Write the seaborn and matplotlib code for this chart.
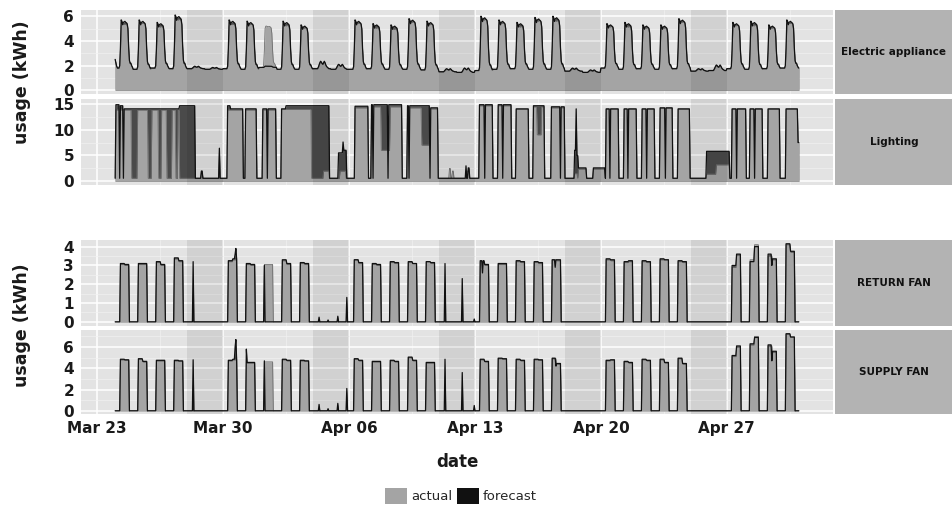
import pandas as pd
import seaborn as sns
import matplotlib.pyplot as plt
import matplotlib.dates as mdates
from matplotlib.patches import Patch

# ---- data ----
hours = pd.date_range('2015-03-24 00:00', '2015-05-01 00:00', freq='h')
days = pd.date_range('2015-03-24', '2015-04-30', freq='D')
weekends = ['2015-03-28', '2015-04-04', '2015-04-11', '2015-04-18', '2015-04-25']
x_ticks = ['2015-03-23', '2015-03-30', '2015-04-06', '2015-04-13', '2015-04-20', '2015-04-27']

# electric appliance: per day night level and day peak (actual / forecast)
E_BASE = [1.8, 1.7, 1.8, 1.75, 1.75, 1.7, 1.75, 1.7, 1.85, 1.7, 1.7, 1.75, 1.7,
          1.7, 1.75, 1.7, 1.7, 1.65, 1.5, 1.45, 1.6, 1.7, 1.75, 1.7, 1.7, 1.55, 1.45,
          1.8, 1.7, 1.75, 1.7, 1.75, 1.55, 1.6, 1.75, 1.7, 1.75, 1.8]
E_PEAK_ACT = [5.5, 5.6, 5.3, 5.9, 1.9, 1.8, 5.5, 5.5, 5.3, 5.4, 5.2, 2.3, 2.1,
              5.6, 5.2, 5.1, 5.7, 5.5, 1.7, 1.8, 5.9, 5.6, 5.3, 5.8, 5.8, 1.75, 1.6,
              5.3, 5.3, 5.2, 5.2, 5.7, 1.7, 2.0, 5.4, 5.4, 5.2, 5.6]
E_PEAK_FC = [5.7, 5.7, 5.5, 6.1, 1.95, 1.85, 5.7, 5.6, 1.95, 5.6, 5.3, 2.35, 2.1,
             5.7, 5.4, 5.3, 5.8, 5.6, 1.75, 1.8, 6.0, 5.7, 5.5, 5.9, 6.0, 1.8, 1.65,
             5.4, 5.5, 5.3, 5.3, 5.8, 1.75, 2.05, 5.5, 5.6, 5.3, 5.7]
E_FIRST_HOURS = [2.5, 2.2, 1.95]
E_WD_ACT_SHAPE = [0, 0, 0, 0, 0, 0, 0.05, 0.4, 0.92, 0.97, 0.97, 0.96, 0.95, 0.96,
                  0.96, 0.95, 0.93, 0.8, 0.4, 0.14, 0.1, 0.08, 0.04, 0]
E_WD_FC_SHAPE = [0, 0, 0, 0, 0, 0, 0.05, 0.42, 1.0, 0.97, 0.9, 0.95, 0.96, 0.97,
                 0.95, 0.94, 0.92, 0.82, 0.42, 0.16, 0.1, 0.1, 0.05, 0.02]
E_WE_SHAPE = [0, 0, 0, 0, 0, 0, 0, 0.2, 0.5, 0.8, 1, 0.9, 0.7, 0.6, 0.8, 1, 0.8,
              0.5, 0.3, 0.2, 0.1, 0, 0, 0]

# lighting: (start, end, level) steps over a night level
L_BASE = 0.6
LIGHT_ACT = [
    ('03-24 01:00', '03-24 22:00', 13.8), ('03-25 06:00', '03-25 20:00', 13.8),
    ('03-26 01:00', '03-26 10:00', 13.8), ('03-26 14:00', '03-26 21:00', 13.8),
    ('03-27 04:00', '03-27 09:00', 13.8), ('03-27 12:00', '03-27 14:00', 13.8),
    ('03-28 19:00', '03-28 21:00', 1.8), ('03-29 19:00', '03-29 20:00', 5.5),
    ('03-30 06:00', '03-31 03:00', 13.8), ('03-31 06:00', '03-31 21:00', 13.8),
    ('04-01 05:00', '04-01 23:00', 13.8), ('04-02 06:00', '04-03 22:00', 13.9),
    ('04-04 14:00', '04-04 22:00', 2.0), ('04-05 12:00', '04-05 20:00', 2.0),
    ('04-06 08:00', '04-07 02:00', 14.2), ('04-07 06:00', '04-07 19:00', 14.4),
    ('04-07 19:00', '04-08 07:00', 6.0), ('04-08 07:00', '04-08 23:00', 14.4),
    ('04-09 06:00', '04-10 01:00', 14.2), ('04-10 01:00', '04-10 12:00', 7.0),
    ('04-10 12:00', '04-10 23:00', 14.0), ('04-11 14:00', '04-11 16:00', 2.5),
    ('04-11 18:00', '04-11 20:00', 2.0), ('04-12 14:00', '04-12 17:00', 2.0),
    ('04-13 06:00', '04-14 00:00', 14.6), ('04-14 07:00', '04-15 01:00', 14.6),
    ('04-15 07:00', '04-16 00:00', 13.9), ('04-16 06:00', '04-16 11:00', 14.4),
    ('04-16 11:00', '04-16 17:00', 9.0), ('04-16 17:00', '04-16 21:00', 14.4),
    ('04-17 06:00', '04-18 00:00', 14.2), ('04-18 13:00', '04-18 17:00', 1.5),
    ('04-18 18:00', '04-19 05:00', 2.4), ('04-19 14:00', '04-20 06:00', 2.4),
    ('04-20 07:00', '04-21 00:00', 13.9), ('04-21 07:00', '04-22 00:00', 13.9),
    ('04-22 07:00', '04-23 00:00', 13.9), ('04-23 07:00', '04-24 00:00', 14.1),
    ('04-24 07:00', '04-24 23:00', 13.9), ('04-25 21:00', '04-26 10:00', 1.4),
    ('04-26 10:00', '04-27 04:00', 3.2), ('04-27 07:00', '04-28 02:00', 13.9),
    ('04-28 07:00', '04-29 00:00', 13.9), ('04-29 07:00', '04-29 23:00', 13.9),
    ('04-30 07:00', '04-30 23:00', 13.9), ('04-30 23:00', '05-01 01:00', 7.5),
]
LIGHT_FC = [
    ('03-24 01:00', '03-24 06:00', 14.8), ('03-24 07:00', '03-24 11:00', 14.6),
    ('03-24 12:00', '03-27 14:00', 14.0), ('03-27 14:00', '03-28 11:00', 14.6),
    ('03-28 19:00', '03-28 21:00', 2.0), ('03-29 19:00', '03-29 20:00', 6.4),
    ('03-30 06:00', '03-30 10:00', 14.6), ('03-30 10:00', '03-31 03:00', 14.0),
    ('03-31 06:00', '03-31 21:00', 14.0), ('04-01 05:00', '04-01 11:00', 14.0),
    ('04-01 12:00', '04-01 23:00', 14.0), ('04-02 06:00', '04-02 12:00', 14.0),
    ('04-02 12:00', '04-04 22:00', 14.6), ('04-05 10:00', '04-05 16:00', 5.5),
    ('04-05 16:00', '04-05 17:00', 7.6), ('04-05 17:00', '04-05 21:00', 6.0),
    ('04-06 08:00', '04-07 02:00', 14.5), ('04-07 06:00', '04-07 08:00', 14.8),
    ('04-07 09:00', '04-08 04:00', 14.8), ('04-08 05:00', '04-08 23:00', 14.8),
    ('04-09 06:00', '04-09 08:00', 14.6), ('04-09 09:00', '04-10 12:00', 14.6),
    ('04-10 13:00', '04-10 23:00', 14.2), ('04-12 12:00', '04-12 13:00', 3.0),
    ('04-12 15:00', '04-12 17:00', 2.6), ('04-13 06:00', '04-13 13:00', 14.8),
    ('04-13 14:00', '04-14 00:00', 14.8), ('04-14 07:00', '04-14 13:00', 14.8),
    ('04-14 14:00', '04-15 01:00', 14.8), ('04-15 07:00', '04-16 00:00', 14.0),
    ('04-16 06:00', '04-16 21:00', 14.6), ('04-17 06:00', '04-17 18:00', 14.4),
    ('04-17 19:00', '04-18 00:00', 14.4), ('04-18 13:00', '04-18 15:00', 6.0),
    ('04-18 15:00', '04-18 16:00', 14.0), ('04-18 16:00', '04-18 18:00', 5.0),
    ('04-18 18:00', '04-19 05:00', 2.6), ('04-19 14:00', '04-20 06:00', 2.6),
    ('04-20 07:00', '04-20 12:00', 14.0), ('04-20 13:00', '04-21 00:00', 14.0),
    ('04-21 07:00', '04-21 12:00', 14.0), ('04-21 13:00', '04-22 00:00', 14.0),
    ('04-22 07:00', '04-22 13:00', 14.0), ('04-22 14:00', '04-23 00:00', 14.0),
    ('04-23 07:00', '04-23 14:00', 14.2), ('04-23 15:00', '04-24 00:00', 14.2),
    ('04-24 07:00', '04-24 23:00', 14.0), ('04-25 21:00', '04-27 04:00', 5.8),
    ('04-27 07:00', '04-27 13:00', 14.0), ('04-27 14:00', '04-28 02:00', 14.0),
    ('04-28 07:00', '04-28 13:00', 14.0), ('04-28 14:00', '04-29 00:00', 14.0),
    ('04-29 07:00', '04-29 23:00', 14.0), ('04-30 07:00', '04-30 23:00', 14.0),
    ('04-30 23:00', '05-01 01:00', 7.5),
]

# fans: weekday morning / afternoon levels, weekend spikes in the forecast
WEEKDAYS = ['03-24', '03-25', '03-26', '03-27', '03-30', '03-31', '04-01', '04-02', '04-03',
            '04-06', '04-07', '04-08', '04-09', '04-10', '04-13', '04-14', '04-15', '04-16',
            '04-17', '04-20', '04-21', '04-22', '04-23', '04-24', '04-27', '04-28', '04-29',
            '04-30']
RF_ACT_AM = [3.05, 3.05, 3.15, 3.35, 3.2, 3.05, 3.05, 3.25, 3.1, 3.3, 3.05, 3.15, 3.15, 3.2,
             3.2, 3.05, 3.2, 3.15, 3.3, 3.3, 3.15, 3.2, 3.3, 3.2, 2.9, 3.3, 3.5, 4.1]
RF_ACT_PM = [3.0, 3.05, 3.0, 3.2, 3.3, 3.0, 3.05, 3.05, 3.05, 3.1, 3.0, 3.1, 3.1, 3.1,
             3.0, 3.05, 3.15, 3.1, 3.25, 3.25, 3.2, 3.15, 3.3, 3.15, 3.55, 4.1, 3.3, 3.7]
RF_FC_AM = [3.1, 3.1, 3.2, 3.4, 3.25, 3.1, 0.0, 3.3, 3.15, 3.3, 3.1, 3.2, 3.2, 3.2,
            3.25, 3.1, 3.25, 3.2, 3.3, 3.35, 3.2, 3.25, 3.35, 3.25, 3.0, 3.2, 3.6, 4.15]
RF_FC_PM = [3.05, 3.1, 3.05, 3.25, 3.35, 3.05, 0.0, 3.1, 3.1, 3.15, 3.05, 3.15, 3.1, 3.15,
            3.05, 3.1, 3.2, 3.15, 3.3, 3.3, 3.25, 3.2, 3.3, 3.2, 3.6, 4.0, 3.35, 3.75]
SF_ACT_AM = [4.8, 4.85, 4.7, 4.7, 4.7, 4.5, 4.6, 4.8, 4.7, 4.85, 4.6, 4.7, 5.0, 4.5,
             4.8, 4.9, 4.8, 4.8, 4.9, 4.7, 4.6, 4.8, 4.8, 4.9, 5.1, 6.2, 6.1, 7.2]
SF_ACT_PM = [4.75, 4.6, 4.7, 4.65, 4.8, 4.5, 4.6, 4.7, 4.65, 4.7, 4.6, 4.6, 4.7, 4.5,
             4.6, 4.85, 4.7, 4.75, 4.4, 4.75, 4.5, 4.7, 4.5, 4.4, 6.0, 7.0, 5.5, 6.9]
SF_FC_AM = [4.85, 4.9, 4.75, 4.75, 4.75, 4.55, 0.0, 4.85, 4.75, 4.9, 4.65, 4.75, 5.05, 4.55,
            4.85, 4.95, 4.85, 4.85, 4.95, 4.75, 4.65, 4.85, 4.85, 4.95, 5.2, 6.3, 6.2, 7.25]
SF_FC_PM = [4.8, 4.65, 4.75, 4.7, 4.85, 4.55, 0.0, 4.75, 4.7, 4.75, 4.65, 4.65, 4.75, 4.55,
            4.65, 4.9, 4.75, 4.8, 4.45, 4.8, 4.55, 4.75, 4.55, 4.45, 6.1, 6.9, 5.6, 6.95]
RF_SPIKES = [('03-28 08:00', 3.2), ('03-30 16:00', 3.6), ('03-30 17:00', 3.9),
             ('04-01 07:00', 3.0), ('04-04 08:00', 0.25), ('04-04 20:00', 0.1),
             ('04-05 09:00', 0.3), ('04-05 21:00', 1.3), ('04-11 08:00', 3.1),
             ('04-12 07:00', 2.3), ('04-12 23:00', 0.15), ('04-13 10:00', 2.6),
             ('04-17 11:00', 2.9), ('04-29 12:00', 3.0)]
SF_SPIKES = [('03-28 08:00', 4.8), ('03-30 16:00', 6.0), ('03-30 17:00', 6.7),
             ('03-31 07:00', 5.8), ('04-01 07:00', 4.7), ('04-04 08:00', 0.6),
             ('04-04 20:00', 0.2), ('04-05 09:00', 0.7), ('04-05 21:00', 2.1),
             ('04-11 08:00', 4.85), ('04-12 07:00', 3.6), ('04-12 23:00', 0.5),
             ('04-17 12:00', 4.2), ('04-29 12:00', 4.7)]


def ts(s):
    return pd.Timestamp('2015-' + s)


def electric(peaks, wd_shape):
    s = pd.Series(0.0, index=hours)
    for d, day in enumerate(days):
        shape = E_WE_SHAPE if day.dayofweek >= 5 else wd_shape
        for h in range(24):
            t = day + pd.Timedelta(hours=h)
            s[t] = E_BASE[d] + shape[h] * (peaks[d] - E_BASE[d])
    s.iloc[-1] = E_BASE[-1]
    s.iloc[:3] = E_FIRST_HOURS
    return s


def steps(base, segs):
    s = pd.Series(base, index=hours, dtype=float)
    for a, b, v in segs:
        s[(s.index >= ts(a)) & (s.index < ts(b))] = v
    return s


def fan(am, pm, spikes=()):
    s = pd.Series(0.0, index=hours)
    for d, a, p in zip(WEEKDAYS, am, pm):
        s[ts(d + ' 07:00'):ts(d + ' 12:00')] = a
        s[ts(d + ' 13:00'):ts(d + ' 18:00')] = p
    for t, v in spikes:
        s[ts(t)] = v
    return s


panels = [
    ('Electric appliance', electric(E_PEAK_ACT, E_WD_ACT_SHAPE), electric(E_PEAK_FC, E_WD_FC_SHAPE),
     (10, 94), (-0.3, 6.5), [0, 2, 4, 6], [1, 3, 5]),
    ('Lighting', steps(L_BASE, LIGHT_ACT), steps(L_BASE, LIGHT_FC),
     (99, 185), (-0.7, 15.9), [0, 5, 10, 15], [2.5, 7.5, 12.5]),
    ('RETURN FAN', fan(RF_ACT_AM, RF_ACT_PM), fan(RF_FC_AM, RF_FC_PM, RF_SPIKES),
     (240, 326), (-0.22, 4.35), [0, 1, 2, 3, 4], [0.5, 1.5, 2.5, 3.5]),
    ('SUPPLY FAN', fan(SF_ACT_AM, SF_ACT_PM), fan(SF_FC_AM, SF_FC_PM, SF_SPIKES),
     (330, 414), (-0.3, 7.6), [0, 2, 4, 6], [1, 3, 5, 7]),
]

sns.set_theme(style='darkgrid', rc={'axes.facecolor': '#e3e3e3', 'grid.color': 'white',
                                    'axes.edgecolor': 'none', 'figure.facecolor': 'white'})
plt.rcParams['font.family'] = ['DejaVu Sans']

W, H = 953, 505
fig = plt.figure(figsize=(W / 100, H / 100), dpi=100)
xmin, xmax = pd.Timestamp('2015-03-22 02:24'), pd.Timestamp('2015-05-02 21:36')
minor_x = [pd.Timestamp(t) + pd.Timedelta(hours=84) for t in x_ticks]

for i, (name, act, fc, (y0, y1), ylim, yt, ymin) in enumerate(panels):
    ax = fig.add_axes([81 / W, 1 - y1 / H, 752 / W, (y1 - y0) / H])
    ax.set_axisbelow(True)
    ax.fill_between(hours, 0, fc.values, color='#4a4a4a', lw=0, zorder=2)
    ax.fill_between(hours, 0, act.values, color='#a4a4a4', lw=0, zorder=2.1)
    ax.plot(hours, act.values, color='#6e6e6e', lw=0.6, zorder=2.2)
    sns.lineplot(x=hours, y=fc.values, ax=ax, color='#111111', lw=0.9, estimator=None, zorder=2.3)
    for w in weekends:
        ax.axvspan(pd.Timestamp(w), pd.Timestamp(w) + pd.Timedelta(days=2),
                   color='black', alpha=0.08, lw=0, zorder=3)
    ax.set_xlim(xmin, xmax)
    ax.set_ylim(*ylim)
    ax.set_yticks(yt)
    ax.set_yticks(ymin, minor=True)
    ax.set_xticks([pd.Timestamp(t) for t in x_ticks])
    ax.set_xticks(minor_x, minor=True)
    ax.grid(which='major', color='white', lw=1.1)
    ax.grid(which='minor', color='#f1f1f1', lw=0.5)
    ax.set_xlabel('')
    ax.set_ylabel('')
    ax.tick_params(axis='y', which='major', length=3, width=0.8, color='#555555', pad=2,
                   labelsize=11, labelcolor='#1a1a1a')
    ax.tick_params(which='minor', length=0)
    for lab in ax.get_yticklabels():
        lab.set_fontweight('bold')
    if i == 3:
        ax.xaxis.set_major_formatter(mdates.DateFormatter('%b %d'))
        ax.tick_params(axis='x', which='major', length=3, width=0.8, color='#555555', pad=2,
                       labelsize=11, labelcolor='#1a1a1a')
        for lab in ax.get_xticklabels():
            lab.set_fontweight('bold')
    else:
        ax.tick_params(axis='x', which='major', length=0, labelbottom=False)
    if ax.get_legend() is not None:
        ax.get_legend().remove()

    sx = fig.add_axes([835 / W, 1 - y1 / H, 118 / W, (y1 - y0) / H])
    sx.set_facecolor('#b3b3b3')
    sx.set_xticks([])
    sx.set_yticks([])
    sx.grid(False)
    sx.text(0.5, 0.5, name, ha='center', va='center', fontsize=7.5, fontweight='bold',
            color='#111111', transform=sx.transAxes)

for yc in (82, 325):
    fig.text(22 / W, 1 - yc / H, 'usage (kWh)', rotation=90, ha='center', va='center',
             fontsize=12.5, fontweight='bold', color='#1a1a1a')
fig.text(457 / W, 1 - 462 / H, 'date', ha='center', va='center', fontsize=12,
         fontweight='bold', color='#1a1a1a')

handles = [Patch(facecolor='#a4a4a4', edgecolor='none', label='actual'),
           Patch(facecolor='#111111', edgecolor='none', label='forecast')]
fig.legend(handles=handles, loc='center', bbox_to_anchor=(461 / W, 1 - 496 / H), ncol=2,
           frameon=False, fontsize=9.5, handlelength=1.7, handleheight=1.4,
           handletextpad=0.3, columnspacing=0.3, borderpad=0)

fig.savefig('out.png', dpi=100)
